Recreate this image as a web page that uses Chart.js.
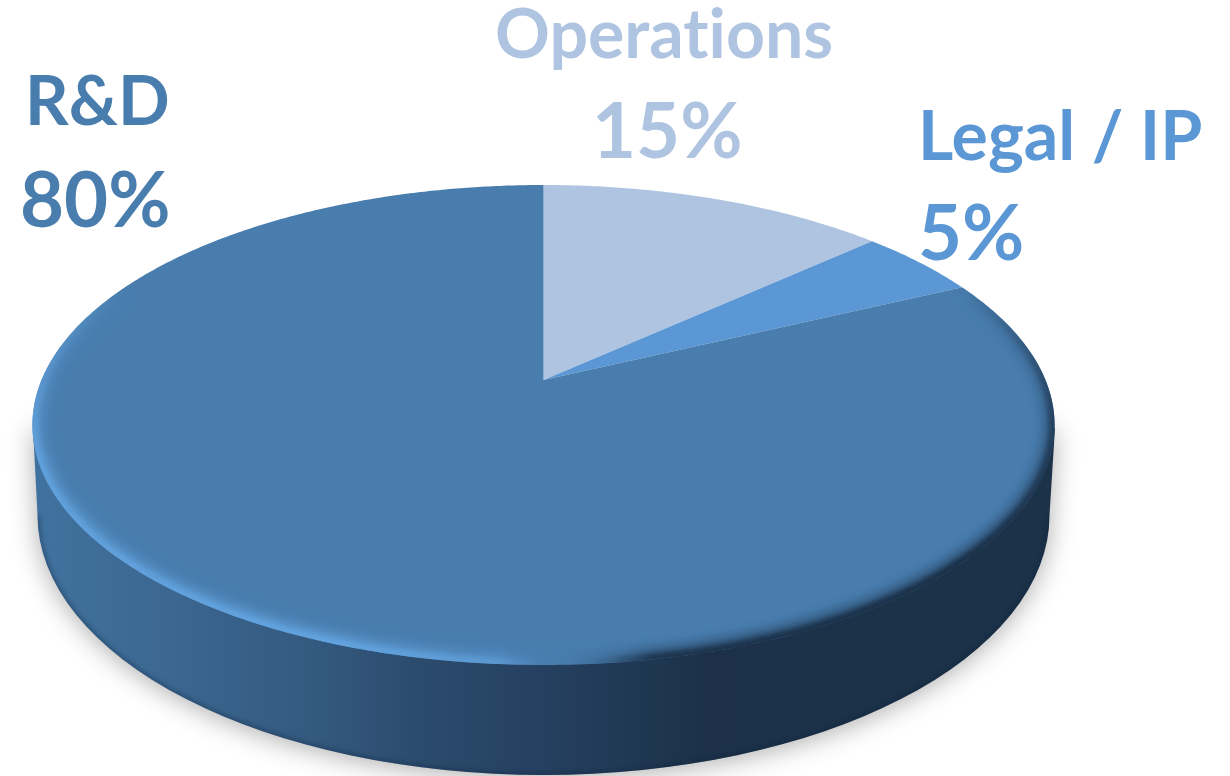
<!DOCTYPE html>
<html>
<head>
<meta charset="utf-8">
<script src="https://cdn.jsdelivr.net/npm/chart.js@4.4.1/dist/chart.umd.js"></script>
<style>
  html, body { margin: 0; padding: 0; background: #fff; }
  canvas { display: block; }
</style>
</head>
<body>
<canvas id="cPie" width="1230" height="776"></canvas>
<script>
const categories = ['Operations', 'Legal / IP', 'R&D'];
const shares = [15, 5, 80];
const sliceColors = ['#aec4e1', '#5a97d4', '#487dae'];

// where each label sits: name x, name baseline, value x, value baseline
const labelSpots = [
  [495, 58, 592, 158],
  [918, 160, 918, 260],
  [25, 125, 20, 227]
];

// tilted view of the disc
const apexX = 543.5, apexY = 380;
const viewA = -160.3, viewC = 0.1875, viewD = 502, bend = 0.14;

function project(angle) {
  // chart.js angle: -PI/2 is straight up, going clockwise
  let t = angle + Math.PI / 2;
  t = t - bend * Math.sin(t);
  const u = Math.sin(t), v = Math.cos(t);
  const w = 1 + viewC * v;
  return [apexX + viewD * u / w, (apexY + viewA * v) / w];
}

function tracePerimeter(ctx, from, to) {
  const steps = Math.max(8, Math.ceil((to - from) / 0.01));
  for (let i = 0; i <= steps; i++) {
    const p = project(from + (to - from) * i / steps);
    ctx.lineTo(p[0], p[1]);
  }
}

function drawWall(ctx) {
  const wall = () => {
    ctx.beginPath();
    ctx.moveTo(33, 428);
    ctx.lineTo(37.5, 515);
    ctx.ellipse(543.5, 515, 506, 260, 0, Math.PI, 0, true);
    ctx.lineTo(1055, 428);
    ctx.closePath();
  };
  const g = ctx.createLinearGradient(35, 0, 1050, 0);
  g.addColorStop(0, '#41729f');
  g.addColorStop(0.12, '#3c6892');
  g.addColorStop(0.27, '#345a80');
  g.addColorStop(0.38, '#2b4b6d');
  g.addColorStop(0.5, '#254060');
  g.addColorStop(0.66, '#1c3149');
  g.addColorStop(1, '#1b3248');

  ctx.save();
  ctx.shadowColor = 'rgba(0,0,0,0.32)';
  ctx.shadowBlur = 26;
  ctx.shadowOffsetY = 3;
  wall();
  ctx.fillStyle = g;
  ctx.fill();
  ctx.restore();

  // darker lip along the lower edge
  ctx.save();
  wall();
  ctx.clip();
  ctx.filter = 'blur(2px)';
  ctx.beginPath();
  ctx.ellipse(543.5, 515, 506, 260, 0, Math.PI, 0, true);
  ctx.strokeStyle = 'rgba(15,35,60,0.35)';
  ctx.lineWidth = 5;
  ctx.stroke();
  ctx.restore();
}

function rimGradient(ctx, dark, light) {
  const g = ctx.createConicGradient(-Math.PI / 2, 543.5, 425);
  g.addColorStop(0, 'rgba(27,48,72,0)');
  g.addColorStop(0.2, 'rgba(27,48,72,0)');
  g.addColorStop(0.25, 'rgba(27,48,72,' + 0.7 * dark + ')');
  g.addColorStop(0.3, 'rgba(27,48,72,' + dark + ')');
  g.addColorStop(0.43, 'rgba(27,48,72,' + 0.9 * dark + ')');
  g.addColorStop(0.49, 'rgba(72,125,174,0)');
  g.addColorStop(0.53, 'rgba(100,165,225,' + 0.6 * light + ')');
  g.addColorStop(0.62, 'rgba(100,165,225,' + 0.95 * light + ')');
  g.addColorStop(0.74, 'rgba(100,165,225,' + 0.85 * light + ')');
  g.addColorStop(0.8, 'rgba(100,165,225,0)');
  g.addColorStop(1, 'rgba(100,165,225,0)');
  return g;
}

function drawBevel(ctx) {
  ctx.save();
  ctx.beginPath();
  tracePerimeter(ctx, -Math.PI / 2, Math.PI * 1.5);
  ctx.closePath();
  ctx.clip();
  // wide soft band, then a tighter one on top
  [[5, 26, 0.45, 0.55], [2.5, 12, 1, 0.9]].forEach(b => {
    ctx.filter = 'blur(' + b[0] + 'px)';
    ctx.beginPath();
    tracePerimeter(ctx, -Math.PI / 2, Math.PI * 1.5);
    ctx.closePath();
    ctx.strokeStyle = rimGradient(ctx, b[2], b[3]);
    ctx.lineWidth = b[1];
    ctx.stroke();
  });
  ctx.restore();
}

const tiltedPie = {
  id: 'tiltedPie',
  beforeDatasetDraw(chart, args) {
    const ctx = chart.ctx;
    const arcs = chart.getDatasetMeta(args.index).data;
    drawWall(ctx);
    arcs.forEach((arc, i) => {
      const a = arc.getProps(['startAngle', 'endAngle'], true);
      ctx.beginPath();
      ctx.moveTo(apexX, apexY);
      tracePerimeter(ctx, a.startAngle, a.endAngle);
      ctx.closePath();
      ctx.fillStyle = sliceColors[i];
      ctx.fill();
    });
    drawBevel(ctx);
    return false;
  },
  afterDraw(chart) {
    const ctx = chart.ctx;
    ctx.save();
    ctx.letterSpacing = '0.01px'; // keeps Lato from joining "ti"
    ctx.textBaseline = 'alphabetic';
    ctx.textAlign = 'left';
    categories.forEach((name, i) => {
      const s = labelSpots[i];
      ctx.fillStyle = sliceColors[i];
      ctx.font = 'bold 68px Lato';
      ctx.fillText(name, s[0], s[1]);
      ctx.font = 'bold 76px Lato';
      ctx.fillText(shares[i] + '%', s[2], s[3]);
    });
    ctx.restore();
  }
};

new Chart(document.getElementById('cPie'), {
  type: 'pie',
  data: { labels: categories, datasets: [{ data: shares, backgroundColor: sliceColors, borderWidth: 0 }] },
  options: {
    responsive: false,
    animation: false,
    plugins: { legend: { display: false }, tooltip: { enabled: false } }
  },
  plugins: [tiltedPie]
});
</script>
</body>
</html>
